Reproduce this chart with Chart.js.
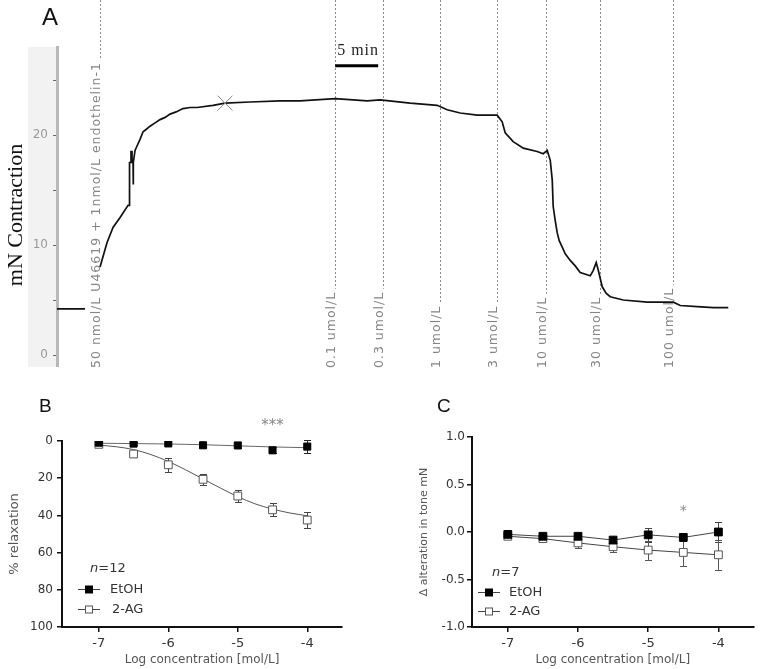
<!DOCTYPE html>
<html>
<head>
<meta charset="utf-8">
<script src="https://cdn.jsdelivr.net/npm/chart.js@4.4.1/dist/chart.umd.min.js"></script>
<style>
  body { margin: 0; background: #fff; }
  #fig { position: relative; width: 760px; height: 669px; overflow: hidden; }
  canvas { position: absolute; }
  .letter { position: absolute; font-family: "Liberation Sans", Arial, sans-serif; line-height: 1; color: #111; }
</style>
</head>
<body>
<div id="fig">
  <canvas id="traceChart" width="760" height="380" style="left:0;top:0"></canvas>
  <canvas id="relaxChart" width="380" height="289" style="left:0;top:380px"></canvas>
  <canvas id="toneChart" width="380" height="289" style="left:380px;top:380px"></canvas>
  <div class="letter" style="left:42px;top:5px;font-size:24px">A</div>
  <div class="letter" style="left:39px;top:396px;font-size:19px">B</div>
  <div class="letter" style="left:437px;top:396px;font-size:19px">C</div>
</div>

<script>
    // ---- panel A: force trace (minutes, mN) ----
    const traceTime = [0, 3.26, 4.0, 5.0, 5.81, 6.51, 7.33, 8.26, 8.37, 8.43, 8.60, 8.60, 8.72, 8.72, 8.84, 8.84, 8.90, 9.07, 9.30,
        9.65, 10.0, 10.35, 10.81, 11.40, 11.98, 12.56, 13.14, 13.84, 14.65, 15.47, 16.28, 18.14, 19.53, 22.44, 25.93, 28.26,
        32.33, 36.05, 37.56, 41.05, 44.19, 45.35, 46.86, 48.84, 51.16, 51.74, 52.09, 53.02, 54.19, 55.81, 56.51, 56.98,
        57.33, 57.56, 57.67, 57.91, 58.14, 58.37, 58.72, 59.07, 59.65, 60.23, 60.81, 61.98, 62.33, 62.67, 62.91, 63.37,
        63.84, 64.3, 65.81, 68.6, 71.63, 72.44, 74.42, 76.28, 78.02];
    const traceForce = [4.2, 4.2, null, 8.0, 10.2, 11.6, 12.5, 13.6, 13.6, 17.5, 17.5, 18.5, 18.5, 17.5, 17.5, 15.5, 17.5, 18.6, 19.0,
        19.6, 20.3, 20.5, 20.8, 21.1, 21.4, 21.6, 21.9, 22.1, 22.4, 22.5, 22.5, 22.7, 22.9, 23.0, 23.1, 23.1,
        23.3, 23.1, 23.2, 22.9, 22.7, 22.3, 22.0, 21.8, 21.8, 21.2, 20.2, 19.4, 18.8, 18.5, 18.3, 18.6,
        17.7, 15.9, 13.5, 12.2, 11.1, 10.4, 9.8, 9.2, 8.6, 8.1, 7.5, 7.2, 7.7, 8.4, 7.7, 6.2,
        5.6, 5.3, 5.0, 4.8, 4.8, 4.5, 4.4, 4.3, 4.3];
    const markTime = [19.53];
    const markForce = [22.9];
    const eventTime = [5.0, 32.33, 37.91, 44.53, 51.16, 56.86, 63.14, 71.63];
    const eventLabel = ['50 nmol/L U46619 + 1nmol/L endothelin-1', '0.1 umol/L', '0.3 umol/L', '1 umol/L',
        '3 umol/L', '10 umol/L', '30 umol/L', '100 umol/L'];
    const scaleBarStart = 32.33;
    const scaleBarMinutes = 5;

    // ---- panels B and C: concentration response ----
    const doseLog = [-7, -6.5, -6, -5.5, -5, -4.5, -4];
    const seriesNames = ['EtOH', '2-AG'];
    const relaxEtOH = [0.9, 1.4, 1.3, 2.3, 2.4, 5.0, 3.0];
    const relaxEtOHErr = [0.8, 0.6, 0.6, 0.7, 1.6, 1.7, 3.4];
    const relax2AG = [1.8, 7.0, 12.8, 20.6, 29.6, 37.0, 42.5];
    const relax2AGErr = [0.6, 1.5, 3.9, 3.0, 3.0, 3.4, 4.3];
    // fitted curves
    const fitLog = [-7, -6.75, -6.5, -6.25, -6, -5.75, -5.5, -5.25, -5, -4.75, -4.5, -4.25, -4];
    const fitEtOH = [1.2, 1.3, 1.4, 1.5, 1.6, 1.8, 2.0, 2.3, 2.6, 2.9, 3.2, 3.4, 3.6];
    const fit2AG = [2.2, 3.1, 4.6, 7.3, 11.0, 15.5, 20.4, 25.3, 29.9, 33.8, 36.6, 38.7, 40.2];

    const toneEtOH = [-0.025, -0.045, -0.045, -0.085, -0.03, -0.057, 0.0];
    const toneEtOHErr = [0.02, 0.02, 0.02, 0.035, 0.07, 0.04, 0.105];
    const tone2AG = [-0.045, -0.07, -0.115, -0.155, -0.19, -0.215, -0.24];
    const tone2AGErr = [0.02, 0.025, 0.05, 0.06, 0.1, 0.14, 0.16];

    Chart.defaults.font.family = '"DejaVu Sans", sans-serif';
    Chart.defaults.animation = false;
    Chart.defaults.plugins.legend.display = false;
    Chart.defaults.plugins.tooltip.enabled = false;

    const pairs = (xs, ys) => xs.map((x, i) => ({ x: x, y: ys[i] }));

    // grey strip behind the trace's y axis, plus the axis title
    const axisBand = {
        id: 'axisBand',
        beforeDraw(chart) {
            const { ctx, chartArea } = chart;
            ctx.save();
            ctx.fillStyle = '#f2f2f2';
            ctx.fillRect(28, chartArea.top, chartArea.left - 28, chartArea.bottom - chartArea.top + 1);
            ctx.translate(16, 215);
            ctx.rotate(-Math.PI / 2);
            ctx.fillStyle = '#111';
            ctx.font = '22px "Liberation Serif", serif';
            ctx.textAlign = 'center';
            ctx.textBaseline = 'middle';
            ctx.fillText('mN Contraction', 0, 0);
            ctx.restore();
        }
    };

    // dotted drug-addition lines with rotated labels
    const eventMarks = {
        id: 'eventMarks',
        beforeDatasetsDraw(chart) {
            const { ctx, scales: { x } } = chart;
            const bottom = 368;
            ctx.save();
            ctx.font = '12.5px "DejaVu Sans", sans-serif';
            ctx.letterSpacing = '1px';
            eventTime.forEach((t, i) => {
                const px = Math.round(x.getPixelForValue(t)) + 0.5;
                const w = ctx.measureText(eventLabel[i]).width;
                ctx.strokeStyle = '#8c8c8c';
                ctx.lineWidth = 1;
                ctx.setLineDash([2, 2]);
                ctx.beginPath();
                ctx.moveTo(px, 0);
                ctx.lineTo(px, bottom - w - 3);
                ctx.stroke();
                ctx.save();
                ctx.translate(px - 1, bottom);
                ctx.rotate(-Math.PI / 2);
                ctx.fillStyle = '#858585';
                ctx.textBaseline = 'alphabetic';
                ctx.fillText(eventLabel[i], 0, 0);
                ctx.restore();
            });
            ctx.restore();
        },
        afterDatasetsDraw(chart) {
            // 5 min scale bar
            const { ctx, scales: { x, y } } = chart;
            const x1 = x.getPixelForValue(scaleBarStart);
            const x2 = x.getPixelForValue(scaleBarStart + scaleBarMinutes);
            const yy = y.getPixelForValue(26.3);
            ctx.save();
            ctx.strokeStyle = '#000';
            ctx.lineWidth = 3;
            ctx.beginPath();
            ctx.moveTo(x1, yy);
            ctx.lineTo(x2, yy);
            ctx.stroke();
            ctx.fillStyle = '#222';
            ctx.font = '16px "Liberation Serif", serif';
            ctx.letterSpacing = '1px';
            ctx.fillText(scaleBarMinutes + ' min', x1 + 2, yy - 11);
            ctx.restore();
        }
    };

    new Chart(document.getElementById('traceChart'), {
        type: 'line',
        data: {
            datasets: [
                { data: pairs(markTime, markForce), showLine: false, pointStyle: 'crossRot', pointRadius: 10.5,
                  borderColor: '#888', borderWidth: 1 },
                { data: pairs(traceTime, traceForce), borderColor: '#111', borderWidth: 1.7, pointRadius: 0, tension: 0 }
            ]
        },
        options: {
            responsive: false,
            layout: { padding: { top: 47, right: 25, bottom: 14, left: 0 } },
            scales: {
                x: { type: 'linear', min: 0, max: 78.8, display: false },
                y: {
                    min: -1, max: 28,
                    ticks: { stepSize: 5, includeBounds: false, color: '#999', font: { size: 12 }, padding: 5,
                             callback: v => (v % 10 === 0 ? v : '') },
                    grid: { drawOnChartArea: false, tickLength: 4, color: '#666' },
                    border: { color: '#b8b8b8', width: 3 },
                    afterFit: s => { s.width = 57; }
                }
            }
        },
        plugins: [axisBand, eventMarks]
    });

    // SEM bars drawn under the markers
    const errorBars = {
        id: 'errorBars',
        beforeDatasetsDraw(chart) {
            const { ctx, scales: { x, y } } = chart;
            chart.data.datasets.forEach(ds => {
                if (!ds.errors) return;
                ctx.save();
                ctx.strokeStyle = ds.errorColor;
                ctx.lineWidth = 1;
                ds.data.forEach((p, j) => {
                    const e = ds.errors[j];
                    const px = Math.round(x.getPixelForValue(p.x)) + 0.5;
                    const y1 = Math.round(y.getPixelForValue(p.y - e)) + 0.5;
                    const y2 = Math.round(y.getPixelForValue(p.y + e)) + 0.5;
                    ctx.beginPath();
                    ctx.moveTo(px, y1); ctx.lineTo(px, y2);
                    ctx.moveTo(px - 3.5, y1); ctx.lineTo(px + 3.5, y1);
                    ctx.moveTo(px - 3.5, y2); ctx.lineTo(px + 3.5, y2);
                    ctx.stroke();
                });
                ctx.restore();
            });
        }
    };

    // n= text, legend rows and significance stars inside the plot
    const inlineLegend = {
        id: 'inlineLegend',
        afterDatasetsDraw(chart, args, opts) {
            const { ctx, chartArea, scales: { x, y } } = chart;
            const left = chartArea.left + opts.x;
            const top = chartArea.top + opts.y;
            ctx.save();
            ctx.fillStyle = '#333';
            ctx.textBaseline = 'middle';
            ctx.font = 'italic 13px "DejaVu Sans", sans-serif';
            ctx.fillText('n', left + opts.nIndent, top);
            const nw = ctx.measureText('n').width;
            ctx.font = '13px "DejaVu Sans", sans-serif';
            ctx.fillText('=' + opts.n, left + opts.nIndent + nw, top);
            seriesNames.forEach((name, k) => {
                const ds = chart.data.datasets[k];
                const yy = Math.round(top + opts.rowGap * (k + 1)) + 0.5;
                ctx.strokeStyle = '#444';
                ctx.lineWidth = 1;
                ctx.beginPath();
                ctx.moveTo(left, yy);
                ctx.lineTo(left + 22, yy);
                ctx.stroke();
                const s = 7;
                ctx.fillStyle = ds.pointBackgroundColor;
                ctx.fillRect(left + 11 - s / 2, yy - s / 2, s, s);
                ctx.strokeStyle = ds.pointBorderColor;
                ctx.strokeRect(left + 11 - s / 2, yy - s / 2, s, s);
                ctx.fillStyle = '#333';
                ctx.fillText(name, left + opts.textIndent + k * opts.textShift, yy);
            });
            ctx.fillStyle = '#888';
            ctx.font = opts.sigSize + 'px "DejaVu Sans", sans-serif';
            ctx.textAlign = 'center';
            ctx.fillText(opts.sigText, x.getPixelForValue(opts.sigX), y.getPixelForValue(opts.sigY));
            ctx.restore();
        }
    };

    const axisCommon = {
        grid: { drawOnChartArea: false, tickLength: 5, color: '#111', lineWidth: 1.5 },
        border: { color: '#111', width: 2 }
    };

    new Chart(document.getElementById('relaxChart'), {
        type: 'line',
        data: {
            datasets: [
                { data: pairs(doseLog, relaxEtOH), errors: relaxEtOHErr, errorColor: '#222', showLine: false,
                  pointStyle: 'rect', pointRadius: 5, pointBackgroundColor: '#000', pointBorderColor: '#000', pointBorderWidth: 1 },
                { data: pairs(doseLog, relax2AG), errors: relax2AGErr, errorColor: '#444', showLine: false,
                  pointStyle: 'rect', pointRadius: 5.5, pointBackgroundColor: '#fff', pointBorderColor: '#555', pointBorderWidth: 1 },
                { data: pairs(fitLog, fitEtOH), borderColor: '#666', borderWidth: 1, pointRadius: 0, cubicInterpolationMode: 'monotone' },
                { data: pairs(fitLog, fit2AG), borderColor: '#555', borderWidth: 1, pointRadius: 0, cubicInterpolationMode: 'monotone' }
            ]
        },
        options: {
            responsive: false,
            layout: { padding: { top: 61, right: 38, bottom: 0, left: 0 } },
            scales: {
                x: {
                    type: 'linear', min: -7.53, max: -3.5, ...axisCommon,
                    ticks: { stepSize: 1, includeBounds: false, color: '#333', font: { size: 13 }, padding: 4 },
                    title: { display: true, text: 'Log concentration [mol/L]', color: '#555', font: { size: 12 }, padding: { bottom: 2 } },
                    afterFit: s => { s.height = 42; }
                },
                y: {
                    reverse: true, min: 0, max: 100, ...axisCommon,
                    ticks: { stepSize: 20, color: '#333', font: { size: 12 }, padding: 4 },
                    title: { display: true, text: '% relaxation', color: '#555', font: { size: 13 }, padding: { top: 7 } },
                    afterFit: s => { s.width = 62; }
                }
            },
            plugins: {
                inlineLegend: { x: 16, y: 128, nIndent: 12, n: 12, rowGap: 20, textIndent: 32, textShift: 2,
                                sigText: '***', sigX: -4.5, sigY: -8.0, sigSize: 15 }
            }
        },
        plugins: [errorBars, inlineLegend]
    });

    new Chart(document.getElementById('toneChart'), {
        type: 'line',
        data: {
            datasets: [
                { data: pairs(doseLog, toneEtOH), errors: toneEtOHErr, errorColor: '#444', borderColor: '#444', borderWidth: 1,
                  pointStyle: 'rect', pointRadius: 5.5, pointBackgroundColor: '#000', pointBorderColor: '#000', pointBorderWidth: 1 },
                { data: pairs(doseLog, tone2AG), errors: tone2AGErr, errorColor: '#555', borderColor: '#444', borderWidth: 1,
                  pointStyle: 'rect', pointRadius: 5.5, pointBackgroundColor: '#fff', pointBorderColor: '#555', pointBorderWidth: 1 }
            ]
        },
        options: {
            responsive: false,
            layout: { padding: { top: 57, right: 2, bottom: 0, left: 0 } },
            scales: {
                x: {
                    type: 'linear', min: -7.51, max: -3.5, ...axisCommon,
                    ticks: { stepSize: 1, includeBounds: false, color: '#333', font: { size: 13 }, padding: 4 },
                    title: { display: true, text: 'Log concentration [mol/L]', color: '#555', font: { size: 12 }, padding: { bottom: 2 } },
                    afterFit: s => { s.height = 42; }
                },
                y: {
                    min: -1, max: 1, ...axisCommon,
                    ticks: { stepSize: 0.5, color: '#333', font: { size: 12 }, padding: 2,
                             callback: v => v.toFixed(1) },
                    title: { display: true, text: 'Δ alteration in tone mN', color: '#555', font: { size: 11 }, padding: { top: 38 } },
                    afterFit: s => { s.width = 92; }
                }
            },
            plugins: {
                inlineLegend: { x: 6, y: 136, nIndent: 14, n: 7, rowGap: 19, textIndent: 31, textShift: 0,
                                sigText: '*', sigX: -4.5, sigY: 0.22, sigSize: 14 }
            }
        },
        plugins: [errorBars, inlineLegend]
    });
</script>
</body>
</html>
